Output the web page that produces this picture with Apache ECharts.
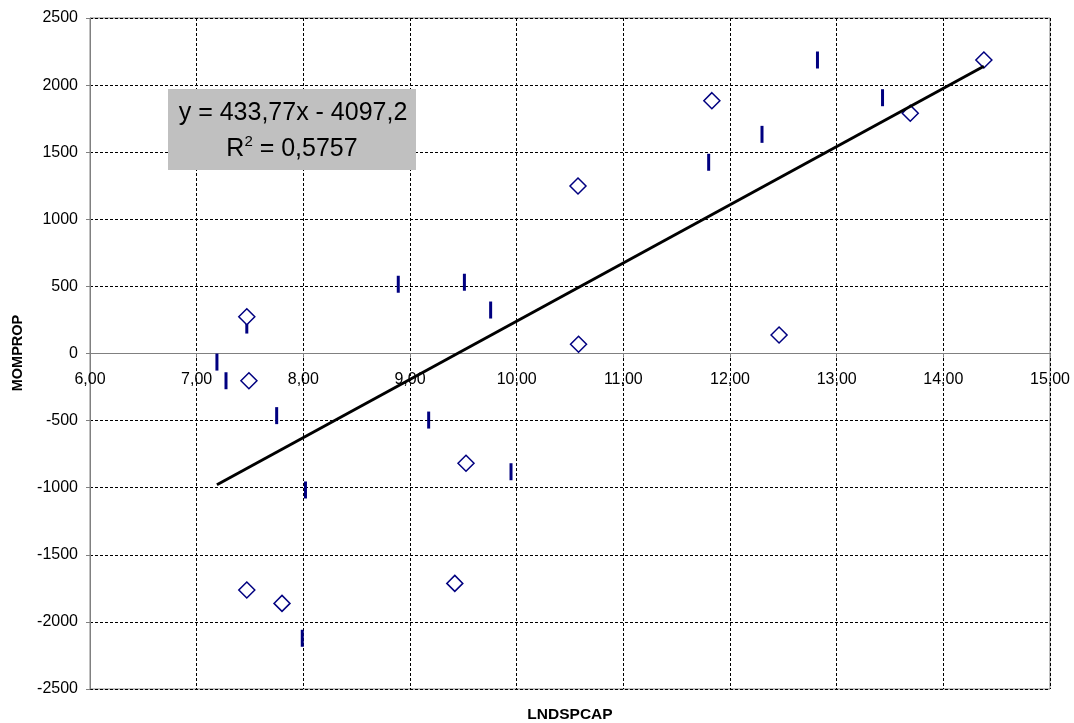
<!DOCTYPE html>
<html>
<head>
<meta charset="utf-8">
<script src="https://cdn.jsdelivr.net/npm/echarts@6/dist/echarts.min.js"></script>
<style>
html,body{margin:0;padding:0;background:#fff;}
#chart{width:1074px;height:723px;}
</style>
</head>
<body>
<div id="chart"></div>
<script>
// Series A: hollow diamond markers (LNDSPCAP, MOMPROP)
var diamondX = [7.47, 7.49, 7.47, 7.80, 9.42, 9.525, 10.58, 10.575, 11.83, 12.46, 13.69, 14.38];
var diamondY = [274, -203, -1762, -1862, -1713, -818, 69, 1248, 1884, 138, 1790, 2187];
// Series B: short vertical bar markers
var barX = [7.19, 7.275, 7.47, 7.75, 8.02, 7.99, 8.89, 9.51, 9.756, 9.175, 9.947, 11.80, 12.30, 12.82, 13.43];
var barY = [-64, -203, 212, -463, -1017, -2122, 516, 531, 324, -496, -881, 1425, 1633, 2187, 1906];
// Linear trend line (as printed on the chart)
var trendSlope = 433.77;
var trendIntercept = -4097.2;
var trendLabel1 = 'y = 433,77x - 4097,2';
var trendLabel2 = '0,5757';
var xName = 'LNDSPCAP';
var yName = 'MOMPROP';
var yMin = -2500, yMax = 2500, yStep = 500;
var xMinAxis = 6, xMaxAxis = 15, xStep = 1;

var allX = diamondX.concat(barX);
var xMin = Math.min.apply(null, allX), xMax = Math.max.apply(null, allX);
var trendData = [[xMin, trendSlope * xMin + trendIntercept], [xMax, trendSlope * xMax + trendIntercept]];

function zip(a, b) { return a.map(function (v, i) { return [v, b[i]]; }); }

var gridTop = 18, gridBottom = 34, H = 723;
var plotH = H - gridTop - gridBottom;
var zeroOffset = -plotH * (0 - yMin) / (yMax - yMin);

var FONT = '"Liberation Sans", Arial, sans-serif';
var chart = echarts.init(document.getElementById('chart'), null, {renderer: 'canvas'});
chart.setOption({
  animation: false,
  backgroundColor: '#ffffff',
  grid: {left: 90, right: 24, top: gridTop, bottom: gridBottom, show: true, borderColor: '#808080', borderWidth: 1},
  xAxis: {
    type: 'value', min: xMinAxis, max: xMaxAxis, interval: xStep,
    offset: zeroOffset,
    axisLine: {onZero: false, lineStyle: {color: '#808080', width: 1}},
    axisTick: {show: true, inside: false, length: 4, lineStyle: {color: '#808080'}},
    axisLabel: {color: '#000', fontFamily: FONT, fontSize: 16, margin: 18,
      formatter: function (v) { return v.toFixed(2).replace('.', ','); }},
    splitLine: {show: true, lineStyle: {color: '#000', type: [3, 2], width: 1}}
  },
  yAxis: {
    type: 'value', min: yMin, max: yMax, interval: yStep,
    axisLine: {show: true, onZero: false, lineStyle: {color: '#808080', width: 1}},
    axisTick: {show: true, length: 4, lineStyle: {color: '#808080'}},
    axisLabel: {color: '#000', fontFamily: FONT, fontSize: 16, margin: 12,
      formatter: function (v) { return String(v); }},
    splitLine: {show: true, lineStyle: {color: '#000', type: [3, 2], width: 1}}
  },
  series: [
    {
      type: 'scatter', name: 'bars', data: zip(barX, barY),
      symbol: 'rect', symbolSize: [3, 17],
      itemStyle: {color: '#000080', opacity: 1}, z: 2
    },
    {
      type: 'scatter', name: 'diamonds', data: zip(diamondX, diamondY),
      symbol: 'diamond', symbolSize: 16,
      itemStyle: {color: '#ffffff', borderColor: '#000080', borderWidth: 1.5, opacity: 1}, z: 3
    },
    {
      type: 'line', name: 'trend', data: trendData, showSymbol: false, symbol: 'none',
      lineStyle: {color: '#000', width: 3}, z: 4, silent: true
    }
  ],
  graphic: [
    {type: 'rect', left: 168, top: 89, shape: {width: 248, height: 81}, style: {fill: '#c0c0c0'}, z: 10},
    {type: 'text', x: 293, y: 113, z: 11,
      style: {text: trendLabel1, font: '25px ' + FONT, fill: '#000', textAlign: 'center', textVerticalAlign: 'middle'}},
    {type: 'text', x: 292, y: 148, z: 11,
      style: {text: '{a|R}{s|2}{a| = ' + trendLabel2 + '}', textAlign: 'center', textVerticalAlign: 'middle', fill: '#000',
        rich: {
          a: {fontFamily: FONT, fontSize: 25, fill: '#000', verticalAlign: 'bottom', lineHeight: 28},
          s: {fontFamily: FONT, fontSize: 15, fill: '#000', verticalAlign: 'top', lineHeight: 28}
        }}},
    {type: 'text', x: 18, y: 353, rotation: Math.PI / 2, z: 11,
      style: {text: yName, font: 'bold 14.5px ' + FONT, fill: '#000', textAlign: 'center', textVerticalAlign: 'middle'}},
    {type: 'text', x: 570, y: 715, z: 11,
      style: {text: xName, font: 'bold 15.5px ' + FONT, fill: '#000', textAlign: 'center', textVerticalAlign: 'middle'}}
  ]
});
</script>
</body>
</html>
